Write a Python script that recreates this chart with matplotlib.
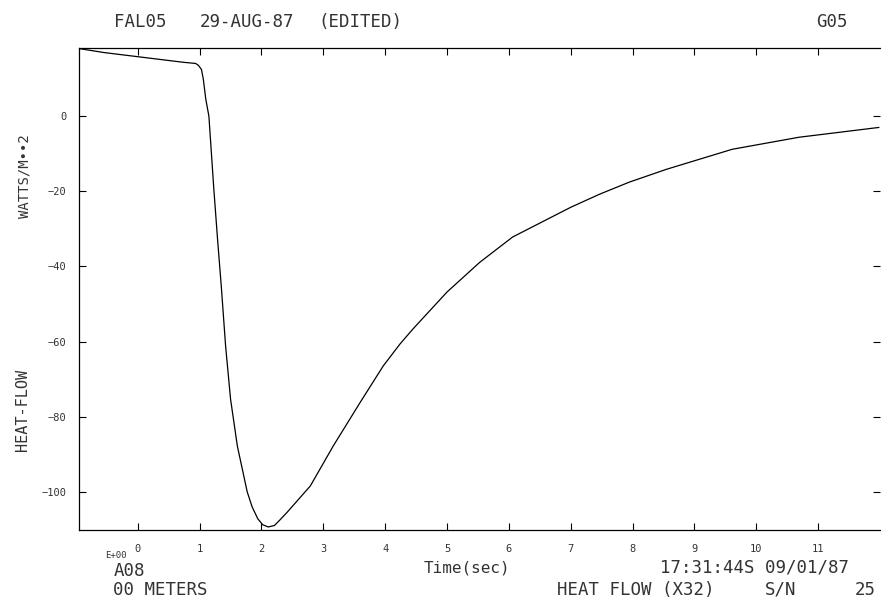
import matplotlib
matplotlib.use("Agg")
import matplotlib.pyplot as plt

# --- data ---
time_sec = [-0.93, -0.55, 0.74, 0.935, 0.98, 1.03, 1.06, 1.10, 1.15, 1.23, 1.29,
            1.35, 1.42, 1.50, 1.61, 1.77, 1.85, 1.94, 2.02, 2.11, 2.21, 2.30, 2.42,
            2.79, 3.16, 3.60, 3.97, 4.24, 4.45, 5.00, 5.53, 6.06, 7.00, 7.47, 7.95,
            8.55, 9.61, 10.69, 11.98]
heat_flow = [17.8, 16.8, 14.2, 13.9, 13.4, 12.3, 9.7, 4.4, -0.1, -19.5, -32.8,
             -45.2, -61.1, -75.2, -87.7, -99.9, -103.9, -107.0, -108.6, -109.2, -108.8, -107.3, -105.2,
             -98.3, -87.7, -76.0, -66.4, -60.6, -56.6, -46.8, -38.9, -32.2, -24.3, -20.8, -17.6,
             -14.2, -8.9, -5.7, -3.1]

x_ticks = list(range(0, 12))
y_ticks = [0, -20, -40, -60, -80, -100]

FONT = "DejaVu Sans Mono"
INK = "#333333"
plt.rcParams["font.family"] = FONT

fig = plt.figure(figsize=(8.81, 6.07), dpi=100)
ax = fig.add_axes([79 / 881, 1 - 530 / 607, 801 / 881, (530 - 48) / 607])

ax.plot(time_sec, heat_flow, color="black", lw=0.9)

ax.set_xlim(-0.95, 12.0)
ax.set_ylim(-110, 18)

ax.set_xticks(x_ticks)
ax.set_yticks(y_ticks)
ax.tick_params(axis="both", direction="in", length=5, width=0.8, color="black",
               top=True, right=True, labelsize=7.5, labelcolor=INK)
ax.tick_params(axis="x", pad=10)
ax.tick_params(axis="y", pad=9)
for side in ["left", "bottom", "top"]:
    ax.spines[side].set_linewidth(0.9)
ax.spines["right"].set_visible(False)

BIG = 12.5


def put(px, py, s, ha="left", size=BIG, **kw):
    fig.text(px / 881, 1 - py / 607, s, ha=ha, va="center", fontsize=size, color=INK, **kw)


# header
put(140, 22, "FAL05", ha="center")
put(200, 22, "29-AUG-87")
put(318, 22, "(EDITED)")
put(832, 22, "G05", ha="center")

# y labels
put(25, 176, "WATTS/M\u2022\u20222", ha="center", size=10, rotation=90)
put(23, 410, "HEAT-FLOW", ha="center", size=11, rotation=90)

# footer
put(105, 555, "E+00", size=6.5)
put(114, 571, "A08")
put(113, 590, "00 METERS")
put(467, 568, "Time(sec)", ha="center", size=11.5)
put(660, 568, "17:31:44S 09/01/87")
put(557, 590, "HEAT FLOW (X32)")
put(765, 590, "S/N")
put(876, 590, "25", ha="right")

fig.savefig("out.png", dpi=100)
